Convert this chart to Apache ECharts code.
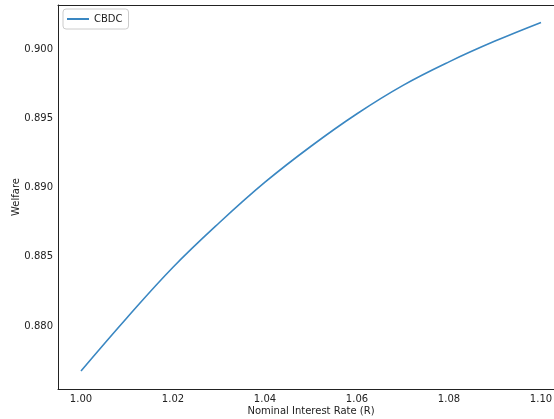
<!DOCTYPE html>
<html>
<head>
<meta charset="utf-8">
<script src="https://cdn.jsdelivr.net/npm/echarts@6/dist/echarts.min.js"></script>
<style>html,body{margin:0;padding:0;background:#fff}#c{width:554px;height:419px}</style>
</head>
<body>
<div id="c"></div>
<script>
const rates = [1.00, 1.01, 1.02, 1.03, 1.04, 1.05, 1.06, 1.07, 1.08, 1.09, 1.10];
const welfare = [0.87675, 0.88060, 0.88425, 0.88745, 0.89040, 0.89300, 0.89535, 0.89740, 0.89910, 0.90060, 0.90195];
const xTicks = [1.00, 1.02, 1.04, 1.06, 1.08, 1.10];
const yTicks = [0.880, 0.885, 0.890, 0.895, 0.900];

const chart = echarts.init(document.getElementById('c'), null, {renderer: 'canvas'});
const font = 'DejaVu Sans';
const spine = {show: true, lineStyle: {color: '#222', width: 1}};
chart.setOption({
  animation: false,
  backgroundColor: '#fff',
  grid: {left: 58, top: 5, width: 506, height: 384, outerBoundsMode: 'none', containLabel: false},
  legend: {
    left: 63, top: 9, itemWidth: 22, itemHeight: 2, itemGap: 5,
    padding: [5, 6, 5, 4], borderColor: '#ccc', borderWidth: 1, borderRadius: 3,
    textStyle: {fontFamily: font, fontSize: 10, color: '#222'},
    icon: 'rect',
    data: ['CBDC']
  },
  xAxis: [{
    type: 'value', min: 0.995, max: 1.105, position: 'bottom',
    axisLine: spine, axisTick: {show: false}, splitLine: {show: false},
    axisLabel: {customValues: xTicks, formatter: v => v.toFixed(2), fontFamily: font, fontSize: 10, color: '#222', margin: 5},
    name: 'Nominal Interest Rate (R)', nameLocation: 'middle', nameGap: 17, nameMoveOverlap: false,
    nameTextStyle: {fontFamily: font, fontSize: 10, color: '#222'}
  }, {
    type: 'value', min: 0.995, max: 1.105, position: 'top',
    axisLine: spine, axisTick: {show: false}, splitLine: {show: false}, axisLabel: {show: false}
  }],
  yAxis: {
    type: 'value', min: 0.87545, max: 0.90321,
    axisLine: spine, axisTick: {show: false}, splitLine: {show: false},
    axisLabel: {customValues: yTicks, formatter: v => v.toFixed(3), fontFamily: font, fontSize: 10, color: '#222', margin: 5},
    name: 'Welfare', nameLocation: 'middle', nameGap: 37, nameMoveOverlap: false,
    nameTextStyle: {fontFamily: font, fontSize: 10, color: '#222'}
  },
  series: [{
    name: 'CBDC', type: 'line', smooth: 0.4, showSymbol: false,
    xAxisIndex: 0,
    data: rates.map((r, i) => [r, welfare[i]]),
    lineStyle: {color: '#3a87c2', width: 1.6},
    itemStyle: {color: '#3a87c2'}
  }]
});
</script>
</body>
</html>
